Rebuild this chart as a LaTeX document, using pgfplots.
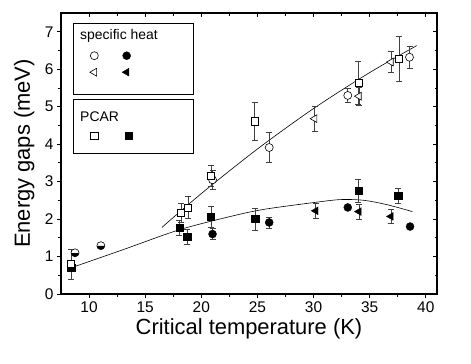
\documentclass[border=0pt]{standalone}
\usepackage{fontspec}
\setmainfont{Liberation Sans}
\usepackage{pgfplots}
\pgfplotsset{compat=1.18}
\usetikzlibrary{plotmarks,calc}

% x  y  ey
\pgfplotstableread{
x y ey
8.4 0.80 0.40
18.2 2.16 0.25
18.8 2.31 0.29
20.85 3.16 0.28
24.75 4.61 0.50
34.0 5.63 0.58
37.6 6.28 0.60
}\opensq
\pgfplotstableread{
x y ey
21.0 3.05 0.25
26.05 3.91 0.40
33.05 5.30 0.19
38.55 6.32 0.30
}\opencirc
\pgfplotstableread{
x y ey
30.1 4.68 0.34
34.05 5.28 0.24
36.9 6.19 0.28
}\opentri
\pgfplotstableread{
x y ey
8.4 0.70 0
18.05 1.76 0.20
18.75 1.53 0.20
20.85 2.07 0.28
24.8 2.00 0.30
34.0 2.75 0.30
37.55 2.63 0.20
}\fillsq
\pgfplotstableread{
x y ey
21.0 1.60 0.15
26.05 1.91 0.15
33.05 2.31 0
38.6 1.80 0
}\fillcirc
\pgfplotstableread{
x y ey
30.2 2.22 0.20
34.05 2.20 0.20
36.9 2.07 0.18
}\filltri

\begin{document}
\begin{tikzpicture}
\pgfplotsset{
  every axis/.append style={
    scale only axis, width=376bp, height=281bp,
    xmin=7.5, xmax=41, ymin=0, ymax=7.5,
    xtick={10,15,...,40}, ytick={0,1,...,7},
    minor x tick num=1, minor y tick num=1,
    axis line style={line width=1.1pt},
    every tick/.style={black, line width=0.8pt},
    major tick length=4bp, minor tick length=2.5bp,
  },
  eb/.style={error bars/.cd, y dir=both, y explicit,
    error mark options={rotate=90, mark size=3bp, black!75, line width=0.6pt},
    error bar style={black!75, line width=0.6pt}},
}
\begin{axis}[
  tick align=outside, xtick pos=bottom, ytick pos=left,
  xticklabel style={font=\fontsize{15.5}{18}\selectfont},
  yticklabel style={font=\fontsize{15.5}{18}\selectfont},
  /pgf/number format/assume math mode=true,
  xlabel={Critical temperature (K)},
  ylabel={Energy gaps (meV)},
  xlabel style={font=\fontsize{22}{26}\selectfont, at={(axis description cs:0.5,0)}, anchor=north, yshift=-21bp},
  ylabel style={font=\fontsize{22}{26}\selectfont, at={(axis description cs:0,0.5)}, anchor=south, yshift=23bp},
  clip=false,
]
% fitted curves
\addplot[black, line width=0.6pt, smooth] coordinates {
  (16.5,1.78) (20,2.68) (25,3.87) (30,4.95) (35,5.91) (39.2,6.63)};
\addplot[black, line width=0.6pt, smooth] coordinates {
  (8.4,0.70) (13,1.18) (18,1.71) (22.6,2.07) (25.6,2.26) (30,2.44)
  (32.4,2.52) (34.5,2.50) (36.6,2.38) (38.8,2.20)};

% filled symbols
\addplot[only marks, mark=square*, mark size=3.6bp, black, eb] table[x=x, y=y, y error=ey] {\fillsq};
\addplot[only marks, mark=*, mark size=4bp, black, eb] table[x=x, y=y, y error=ey] {\fillcirc};
\addplot[only marks, mark=triangle*, mark size=4.5bp, mark options={rotate=90}, black, eb] table[x=x, y=y, y error=ey] {\filltri};
% open symbols
\addplot[only marks, mark=*, mark size=4bp, black, mark options={fill=white, line width=0.6pt}, eb] table[x=x, y=y, y error=ey] {\opencirc};
\addplot[only marks, mark=triangle*, mark size=4.5bp, black, mark options={rotate=90, fill=white, line width=0.6pt}, eb] table[x=x, y=y, y error=ey] {\opentri};
\addplot[only marks, mark=square*, mark size=3.6bp, black, mark options={fill=white, line width=0.6pt}, eb] table[x=x, y=y, y error=ey] {\opensq};
% half open / half filled circles
\addplot[only marks, mark=halfcircle*, mark size=4bp, black, mark options={rotate=180, fill=black, line width=0.6pt}] coordinates {(8.75,1.10) (11.05,1.29)};

% legend boxes
\draw[line width=0.8pt, fill=white] (axis cs:8.63,5.34) rectangle (axis cs:19.28,7.21);
\draw[line width=0.8pt, fill=white] (axis cs:8.63,3.76) rectangle (axis cs:19.28,5.19);
\node[anchor=west, font=\fontsize{14}{16}\selectfont] at (axis cs:8.9,6.88) {specific heat};
\node[anchor=west, font=\fontsize{14}{16}\selectfont] at (axis cs:8.9,4.72) {PCAR};
\addplot[only marks, mark=*, mark size=4bp, black, mark options={fill=white, line width=0.6pt}] coordinates {(10.47,6.36)};
\addplot[only marks, mark=*, mark size=4bp, black] coordinates {(13.35,6.36)};
\addplot[only marks, mark=triangle*, mark size=4.5bp, black, mark options={rotate=90, fill=white, line width=0.6pt}] coordinates {(10.47,5.92)};
\addplot[only marks, mark=triangle*, mark size=4.5bp, black, mark options={rotate=90}] coordinates {(13.35,5.92)};
\addplot[only marks, mark=square*, mark size=3.6bp, black, mark options={fill=white, line width=0.6pt}] coordinates {(10.47,4.23)};
\addplot[only marks, mark=square*, mark size=3.6bp, black] coordinates {(13.55,4.23)};
\end{axis}
\begin{axis}[
  tick align=inside, xtick pos=top, ytick pos=right,
  xticklabels={}, yticklabels={},
]
\end{axis}
\pgfresetboundingbox
\path ($(current axis.south west)+(-61bp,-70bp)$) rectangle ($(current axis.north east)+(34bp,13bp)$);
\end{tikzpicture}
\end{document}
